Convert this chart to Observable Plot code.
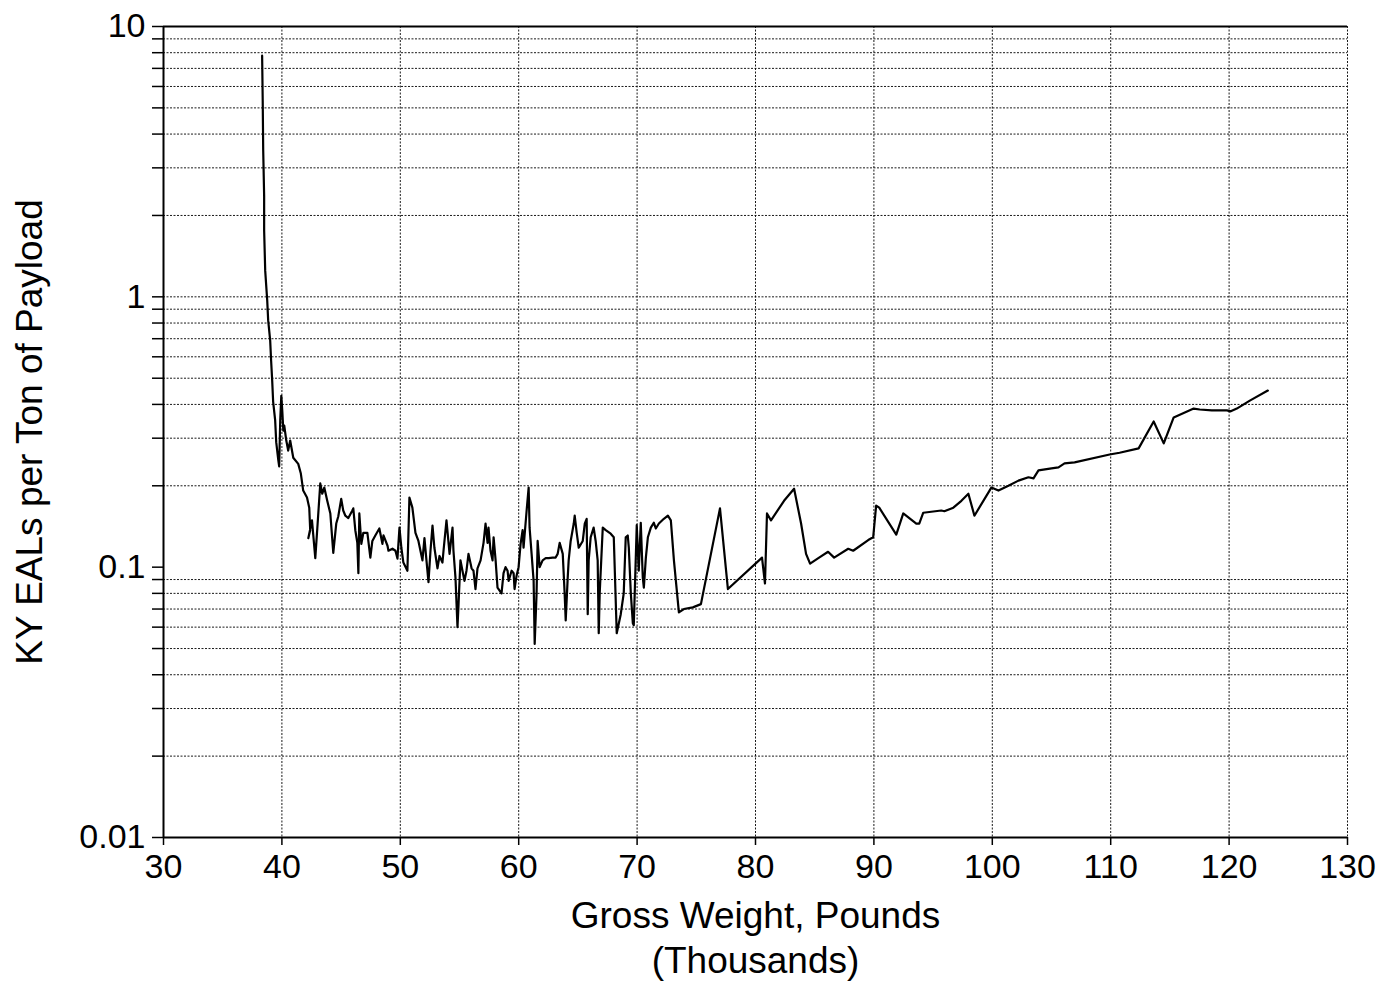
<!DOCTYPE html>
<html>
<head>
<meta charset="utf-8">
<script src="https://cdn.jsdelivr.net/npm/d3@7"></script>
<script src="https://cdn.jsdelivr.net/npm/@observablehq/plot@0.6"></script>
<style>
  html, body { margin: 0; padding: 0; background: #fff; }
  #chart { width: 1396px; height: 986px; }
</style>
</head>
<body>
<div id="chart"></div>
<script>
// Gross vehicle weight (thousands of pounds), in the order the trace is drawn
const grossWeight = [
  38.33, 38.38, 38.42, 38.50, 38.50, 38.59, 38.76, 38.84, 39.01, 39.09,
  39.18, 39.26, 39.43, 39.52, 39.69, 39.77, 39.86, 39.95, 40.03, 40.12,
  40.20, 40.37, 40.53, 40.70, 40.96, 41.38, 41.60, 41.80, 42.12, 42.31,
  42.39, 42.23, 42.54, 42.82, 42.99, 43.24, 43.41, 43.58, 43.83, 44.09,
  44.34, 44.59, 44.76, 45.01, 45.18, 45.36, 45.61, 45.95, 46.03, 46.20,
  46.37, 46.46, 46.54, 46.71, 46.88, 47.22, 47.47, 47.64, 47.89, 48.23,
  48.49, 48.58, 48.92, 49.00, 49.34, 49.59, 49.76, 49.93, 50.09, 50.26,
  50.60, 50.77, 51.02, 51.28, 51.53, 51.87, 52.04, 52.21, 52.38, 52.55,
  52.72, 52.88, 53.14, 53.31, 53.56, 53.65, 53.90, 54.16, 54.41, 54.49,
  54.66, 54.83, 54.92, 55.08, 55.25, 55.42, 55.59, 55.76, 56.02, 56.18,
  56.35, 56.52, 56.78, 57.03, 57.20, 57.37, 57.45, 57.62, 57.79, 57.88,
  58.05, 58.21, 58.55, 58.72, 58.89, 59.06, 59.15, 59.40, 59.57, 59.65,
  59.82, 59.99, 60.16, 60.33, 60.41, 60.67, 60.84, 60.92, 61.09, 61.26,
  61.35, 61.51, 61.60, 61.77, 62.02, 62.28, 62.53, 62.87, 63.12, 63.29,
  63.46, 63.72, 63.88, 63.97, 64.14, 64.22, 64.39, 64.65, 64.73, 64.90,
  65.07, 65.41, 65.58, 65.74, 65.83, 65.91, 66.08, 66.33, 66.50, 66.67,
  66.76, 66.84, 67.10, 67.35, 67.77, 68.03, 68.28, 68.62, 68.87, 69.04,
  69.21, 69.30, 69.47, 69.64, 69.72, 69.97, 70.14, 70.31, 70.48, 70.57,
  70.74, 70.91, 71.16, 71.41, 71.58, 71.84, 72.26, 72.60, 72.85, 73.11,
  73.53, 73.95, 74.71, 75.39, 77.00, 77.67, 80.55, 80.80, 80.97, 81.31,
  82.41, 83.26, 83.85, 84.27, 84.61, 85.37, 86.13, 86.64, 87.83, 88.25,
  89.52, 89.94, 90.19, 90.45, 91.89, 92.48, 93.58, 93.83, 94.17, 95.69,
  95.95, 96.71, 97.39, 97.98, 98.49, 99.92, 100.52, 101.36, 102.21, 103.05,
  103.48, 103.90, 105.00, 105.59, 106.10, 106.95, 109.91, 110.75, 112.36, 113.63,
  114.48, 115.32, 117.01, 117.52, 118.54, 119.81, 120.14, 120.65, 121.75, 123.27
];

// KY equivalent axle loads per ton of payload, one per weight above
const ealsPerTon = [
  7.8, 5.3, 3.5, 2.37, 1.76, 1.25, 0.97, 0.82, 0.69, 0.58,
  0.49, 0.41, 0.35, 0.29, 0.25, 0.236, 0.35, 0.43, 0.38, 0.32,
  0.334, 0.294, 0.27, 0.294, 0.254, 0.241, 0.222, 0.192, 0.181, 0.166,
  0.137, 0.128, 0.149, 0.108, 0.139, 0.204, 0.187, 0.197, 0.176, 0.158,
  0.113, 0.145, 0.154, 0.179, 0.162, 0.155, 0.152, 0.162, 0.165, 0.137,
  0.123, 0.095, 0.158, 0.122, 0.134, 0.134, 0.1085, 0.125, 0.131, 0.139,
  0.122, 0.131, 0.120, 0.115, 0.117, 0.115, 0.1076, 0.140, 0.118, 0.104,
  0.097, 0.181, 0.166, 0.134, 0.125, 0.106, 0.128, 0.106, 0.088, 0.115,
  0.1425, 0.118, 0.099, 0.110, 0.104, 0.115, 0.149, 0.112, 0.140, 0.115,
  0.0915, 0.060, 0.073, 0.106, 0.097, 0.089, 0.097, 0.112, 0.099, 0.097,
  0.083, 0.099, 0.106, 0.123, 0.145, 0.123, 0.140, 0.115, 0.106, 0.129,
  0.106, 0.084, 0.080, 0.095, 0.100, 0.097, 0.089, 0.097, 0.095, 0.083,
  0.093, 0.100, 0.122, 0.137, 0.118, 0.162, 0.197, 0.140, 0.112, 0.089,
  0.052, 0.080, 0.125, 0.100, 0.106, 0.108, 0.108, 0.1085, 0.1085, 0.112,
  0.123, 0.112, 0.080, 0.0635, 0.0915, 0.106, 0.125, 0.145, 0.155, 0.134,
  0.118, 0.125, 0.145, 0.151, 0.067, 0.106, 0.129, 0.140, 0.125, 0.106,
  0.057, 0.080, 0.140, 0.137, 0.133, 0.129, 0.057, 0.067, 0.080, 0.129,
  0.131, 0.118, 0.080, 0.062, 0.061, 0.143, 0.097, 0.146, 0.0915, 0.084,
  0.1085, 0.129, 0.140, 0.146, 0.139, 0.145, 0.151, 0.155, 0.149, 0.106,
  0.068, 0.070, 0.071, 0.073, 0.165, 0.083, 0.1085, 0.087, 0.158, 0.149,
  0.176, 0.195, 0.145, 0.112, 0.103, 0.1085, 0.114, 0.1085, 0.117, 0.115,
  0.126, 0.129, 0.169, 0.166, 0.132, 0.158, 0.145, 0.145, 0.159, 0.162,
  0.161, 0.166, 0.176, 0.187, 0.155, 0.197, 0.192, 0.200, 0.209, 0.215,
  0.213, 0.228, 0.232, 0.234, 0.242, 0.244, 0.261, 0.265, 0.275, 0.346,
  0.287, 0.358, 0.386, 0.383, 0.380, 0.380, 0.377, 0.386, 0.413, 0.450
];

// Axis ticks
const xTicks = [30, 40, 50, 60, 70, 80, 90, 100, 110, 120, 130];
const yMajorTicks = [0.01, 0.1, 1, 10];
const yMinorTicks = [
  0.02, 0.03, 0.04, 0.05, 0.06, 0.07, 0.08, 0.09,
  0.2, 0.3, 0.4, 0.5, 0.6, 0.7, 0.8, 0.9,
  2, 3, 4, 5, 6, 7, 8, 9
];
const xTitle = "Gross Weight, Pounds";
const xSubtitle = "(Thousands)";
const yTitle = "KY EALs per Ton of Payload";

const series = grossWeight.map((w, i) => ({weight: w, eals: ealsPerTon[i]}));

const font = "'Liberation Sans', Arial, Helvetica, sans-serif";
const tickFont = 34;
const titleFont = 37;
const dotted = {stroke: "#000", strokeOpacity: 0.9, strokeWidth: 1, strokeDasharray: "2,1.5"};

const chart = Plot.plot({
  width: 1396,
  height: 986,
  marginTop: 26,
  marginLeft: 163,
  marginRight: 49,
  marginBottom: 149,
  style: {fontFamily: font, fontSize: `${tickFont}px`, color: "#000", background: "#fff"},
  x: {domain: [30, 130], label: null},
  y: {type: "log", domain: [0.01, 10], label: null},
  marks: [
    // dotted grid at every decade and every minor log step
    Plot.gridY([...yMinorTicks, 1], dotted),
    Plot.gridX(xTicks.filter(d => d > 30), dotted),
    // tick marks
    Plot.axisY(yMinorTicks, {tickSize: 11, tickFormat: () => "", label: null, strokeWidth: 1.5}),
    Plot.axisY(yMajorTicks, {tickSize: 11, tickPadding: 7, tickFormat: d => String(d), label: null, fontSize: tickFont, strokeWidth: 1.5}),
    Plot.axisX(xTicks, {tickSize: 8, tickPadding: 8, label: null, fontSize: tickFont, strokeWidth: 1.5}),
    // frame: solid left, bottom and top edges
    Plot.ruleX([30], {stroke: "#000", strokeWidth: 2}),
    Plot.ruleY([0.01], {stroke: "#000", strokeWidth: 2}),
    Plot.ruleY([10], {stroke: "#000", strokeWidth: 2}),
    // the data trace
    Plot.line(series, {x: "weight", y: "eals", stroke: "#000", strokeWidth: 2.2, strokeLinejoin: "round"}),
    // axis titles
    Plot.text([xTitle], {frameAnchor: "bottom", dy: 90, text: d => d, fontSize: titleFont, fill: "#000"}),
    Plot.text([xSubtitle], {frameAnchor: "bottom", dy: 135, text: d => d, fontSize: titleFont, fill: "#000"}),
    Plot.text([yTitle], {frameAnchor: "left", dx: -133, rotate: -90, textAnchor: "middle", lineAnchor: "middle", text: d => d, fontSize: titleFont, fill: "#000"})
  ]
});

document.getElementById("chart").appendChild(chart);
</script>
</body>
</html>
